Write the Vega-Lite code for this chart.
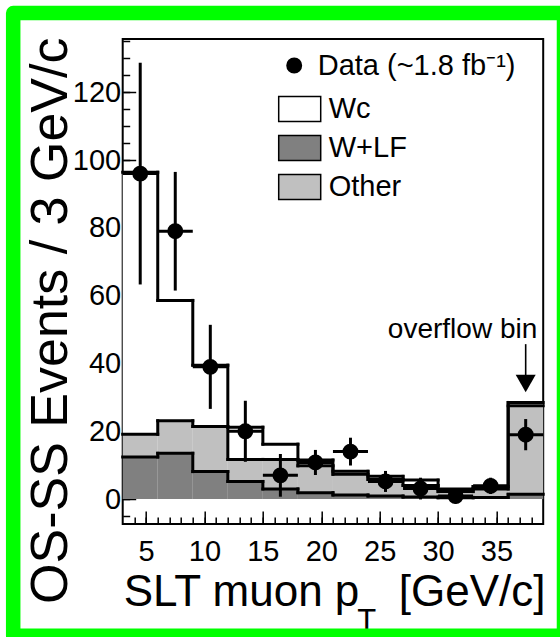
{
  "$schema": "https://vega.github.io/schema/vega-lite/v6.json",
  "width": 420.5,
  "height": 485,
  "autosize": {"type": "none"},
  "padding": {"left": 122.7, "top": 39, "right": 16.8, "bottom": 113},
  "background": "#ffffff",
  "config": {
    "font": "Liberation Sans",
    "view": {"stroke": "#000000", "strokeWidth": 2},
    "axis": {
      "grid": false,
      "domain": false,
      "labelColor": "#000000",
      "titleColor": "#000000",
      "tickColor": "#000000",
      "labelFont": "Liberation Sans",
      "titleFont": "Liberation Sans",
      "titleFontWeight": "normal",
      "titleLimit": 2000,
      "labelLimit": 300
    }
  },
  "datasets": {
    "bins": [
      {"lo": 3, "hi": 6, "pt": 4.5, "lf": 12.4, "other": 6.7, "wc": 77.3, "data": 96, "err": 32.7},
      {"lo": 6, "hi": 9, "pt": 7.5, "lf": 13.5, "other": 9.6, "wc": 35.5, "data": 79, "err": 17.5},
      {"lo": 9, "hi": 12, "pt": 10.5, "lf": 8.1, "other": 13.3, "wc": 18.1, "data": 39, "err": 12.4},
      {"lo": 12, "hi": 15, "pt": 13.5, "lf": 5.2, "other": 6.5, "wc": 9.5, "data": 20, "err": 9},
      {"lo": 15, "hi": 18, "pt": 16.5, "lf": 3.0, "other": 8.7, "wc": 4.5, "data": 7, "err": 6.3},
      {"lo": 18, "hi": 21, "pt": 19.5, "lf": 1.9, "other": 7.9, "wc": 1.7, "data": 10.8, "err": 3.7},
      {"lo": 21, "hi": 24, "pt": 22.5, "lf": 1.2, "other": 6.1, "wc": 0.9, "data": 14, "err": 4.1},
      {"lo": 24, "hi": 27, "pt": 25.5, "lf": 0.9, "other": 4.9, "wc": 0.9, "data": 5.2, "err": 3.1},
      {"lo": 27, "hi": 30, "pt": 28.5, "lf": 0.6, "other": 3.4, "wc": 1.6, "data": 3.1, "err": 3.2},
      {"lo": 30, "hi": 33, "pt": 31.5, "lf": 0.4, "other": 1.8, "wc": 0.8, "data": 0.9, "err": 2.2},
      {"lo": 33, "hi": 36, "pt": 34.5, "lf": 0.5, "other": 2.5, "wc": 0.7, "data": 3.9, "err": 2.4},
      {"lo": 36, "hi": 39, "pt": 37.5, "lf": 1.4, "other": 26.1, "wc": 1.0, "data": 19, "err": 4.6}
    ]
  },
  "resolve": {"axis": {"x": "independent", "y": "independent"}},
  "layer": [
    {
      "data": {"values": [{}]},
      "mark": {"type": "rect", "fill": "transparent", "stroke": "#00ff00", "strokeWidth": 14.5, "strokeJoin": "round", "clip": false},
      "encoding": {
        "x": {"datum": -6.375, "type": "quantitative", "axis": null},
        "x2": {"datum": 40.78},
        "y": {"datum": 143.35, "type": "quantitative", "axis": null},
        "y2": {"datum": -40.28}
      }
    },
    {
      "data": {"name": "bins"},
      "transform": [
        {"fold": ["lf", "other", "wc"], "as": ["comp", "n"]},
        {"stack": "n", "groupby": ["lo"], "sort": [{"field": "comp", "order": "ascending"}], "as": ["y0", "y1"]}
      ],
      "mark": {"type": "rect"},
      "encoding": {
        "x": {
          "field": "lo", "type": "quantitative",
          "scale": {"domain": [3, 39], "nice": false, "zero": false},
          "axis": {
            "orient": "bottom", "values": [5, 10, 15, 20, 25, 30, 35],
            "tickSize": -13, "tickWidth": 1.5, "labelFontSize": 29, "labelPadding": 26,
            "title": "SLT muon p", "titleFontSize": 44,
            "titleX": 0.5, "titleY": 81, "titleAlign": "left", "titleBaseline": "alphabetic"
          }
        },
        "x2": {"field": "hi"},
        "y": {
          "field": "y0", "type": "quantitative",
          "scale": {"domain": [-7.35, 135.7], "nice": false, "zero": false},
          "axis": {
            "orient": "left", "values": [0, 20, 40, 60, 80, 100, 120],
            "tickSize": -13, "tickWidth": 1.5, "labelFontSize": 29, "labelPadding": 15,
            "title": "OS-SS Events / 3 GeV/c", "titleFontSize": 52, "titleAngle": 270,
            "titleX": -56.7, "titleY": -2, "titleAlign": "right", "titleBaseline": "alphabetic"
          }
        },
        "y2": {"field": "y1"},
        "fill": {
          "field": "comp", "type": "nominal",
          "scale": {"domain": ["wc", "lf", "other"], "range": ["#ffffff", "#808080", "#c0c0c0"]},
          "legend": {
            "orient": "none", "legendX": 155, "legendY": 48, "title": null, "padding": 0,
            "labelExpr": "datum.label == 'wc' ? 'Wc' : datum.label == 'lf' ? 'W+LF' : 'Other'",
            "symbolType": "M-1,-0.6H1V0.6H-1Z", "symbolSize": 1764,
            "symbolStrokeColor": "#000000", "symbolStrokeWidth": 1.5, "symbolOpacity": 1,
            "labelFontSize": 29, "labelFont": "Liberation Sans", "labelColor": "#000000",
            "labelOffset": 7, "rowPadding": 1, "labelLimit": 400
          }
        }
      }
    },
    {
      "data": {"name": "bins"},
      "transform": [
        {"fold": ["lf", "other", "wc"], "as": ["comp", "n"]},
        {"stack": "n", "groupby": ["lo"], "sort": [{"field": "comp", "order": "ascending"}], "as": ["y0", "y1"]}
      ],
      "mark": {"type": "rule", "color": "#000000", "strokeWidth": 3, "strokeCap": "square"},
      "encoding": {
        "x": {
          "field": "lo", "type": "quantitative",
          "axis": {
            "orient": "bottom",
            "values": [4, 5, 6, 7, 8, 9, 10, 11, 12, 13, 14, 15, 16, 17, 18, 19, 20, 21, 22, 23, 24, 25, 26, 27, 28, 29, 30, 31, 32, 33, 34, 35, 36, 37, 38],
            "tickSize": -7, "tickWidth": 1.5, "labels": false,
            "title": "T", "titleFontSize": 31,
            "titleX": 234, "titleY": 106.5, "titleAlign": "left", "titleBaseline": "alphabetic"
          }
        },
        "x2": {"field": "hi"},
        "y": {
          "field": "y1", "type": "quantitative",
          "axis": {
            "orient": "left",
            "values": [-5, 0, 5, 10, 15, 20, 25, 30, 35, 40, 45, 50, 55, 60, 65, 70, 75, 80, 85, 90, 95, 100, 105, 110, 115, 120, 125, 130, 135],
            "tickSize": -7, "tickWidth": 1.5, "labels": false, "title": null
          }
        }
      }
    },
    {
      "data": {"name": "bins"},
      "transform": [
        {"fold": ["lf", "other", "wc"], "as": ["comp", "n"]},
        {"stack": "n", "groupby": ["lo"], "sort": [{"field": "comp", "order": "ascending"}], "as": ["y0", "y1"]},
        {"window": [{"op": "lead", "field": "y1", "as": "next"}], "groupby": ["comp"], "sort": [{"field": "lo", "order": "ascending"}]},
        {"filter": "datum.next != null"}
      ],
      "mark": {"type": "rule", "color": "#000000", "strokeWidth": 3, "strokeCap": "square"},
      "encoding": {
        "x": {"field": "hi", "type": "quantitative", "axis": null},
        "y": {"field": "y1", "type": "quantitative", "axis": null},
        "y2": {"field": "next"}
      }
    },
    {
      "data": {"name": "bins"},
      "mark": {"type": "errorbar", "thickness": 3, "color": "#000000"},
      "encoding": {
        "x": {"field": "pt", "type": "quantitative", "axis": null},
        "y": {"field": "data", "type": "quantitative", "axis": null},
        "yError": {"field": "err"}
      }
    },
    {
      "data": {"name": "bins"},
      "mark": {"type": "rule", "color": "#000000", "strokeWidth": 3},
      "encoding": {
        "x": {
          "field": "lo", "type": "quantitative",
          "axis": {
            "orient": "bottom", "ticks": false, "labels": false,
            "title": "[GeV/c]", "titleFontSize": 44,
            "titleX": 422.3, "titleY": 81, "titleAlign": "right", "titleBaseline": "alphabetic"
          }
        },
        "x2": {"field": "hi"},
        "y": {"field": "data", "type": "quantitative", "axis": null}
      }
    },
    {
      "data": {"name": "bins"},
      "mark": {"type": "point", "filled": true, "color": "#000000", "size": 254, "opacity": 1, "strokeWidth": 0},
      "encoding": {
        "x": {"field": "pt", "type": "quantitative", "axis": null},
        "y": {"field": "data", "type": "quantitative", "axis": null},
        "shape": {
          "datum": "Data (~1.8 fb⁻¹)", "type": "nominal",
          "scale": {"range": ["circle"]},
          "legend": {
            "orient": "none", "legendX": 157, "legendY": 12, "title": null, "padding": 0,
            "symbolSize": 254, "symbolFillColor": "#000000", "symbolStrokeColor": "#000000", "symbolStrokeWidth": 0,
            "labelFontSize": 29, "labelFont": "Liberation Sans", "labelColor": "#000000",
            "labelOffset": 9, "labelLimit": 400
          }
        }
      }
    },
    {
      "data": {"values": [{}]},
      "mark": {"type": "rule", "color": "#000000", "strokeWidth": 1.6},
      "encoding": {
        "x": {"datum": 37.5, "type": "quantitative", "axis": null},
        "y": {"datum": 45.7, "type": "quantitative", "axis": null},
        "y2": {"datum": 36.3}
      }
    },
    {
      "data": {"values": [{}]},
      "mark": {"type": "point", "shape": "triangle-down", "filled": true, "color": "#000000", "size": 400, "opacity": 1, "strokeWidth": 0},
      "encoding": {
        "x": {"datum": 37.5, "type": "quantitative", "axis": null},
        "y": {"datum": 34.1, "type": "quantitative", "axis": null}
      }
    },
    {
      "data": {"values": [{}]},
      "mark": {"type": "text", "text": "overflow bin", "align": "right", "baseline": "alphabetic", "fontSize": 28, "font": "Liberation Sans", "color": "#000000"},
      "encoding": {
        "x": {"datum": 38.49, "type": "quantitative", "axis": null},
        "y": {"datum": 47.46, "type": "quantitative", "axis": null}
      }
    }
  ]
}
